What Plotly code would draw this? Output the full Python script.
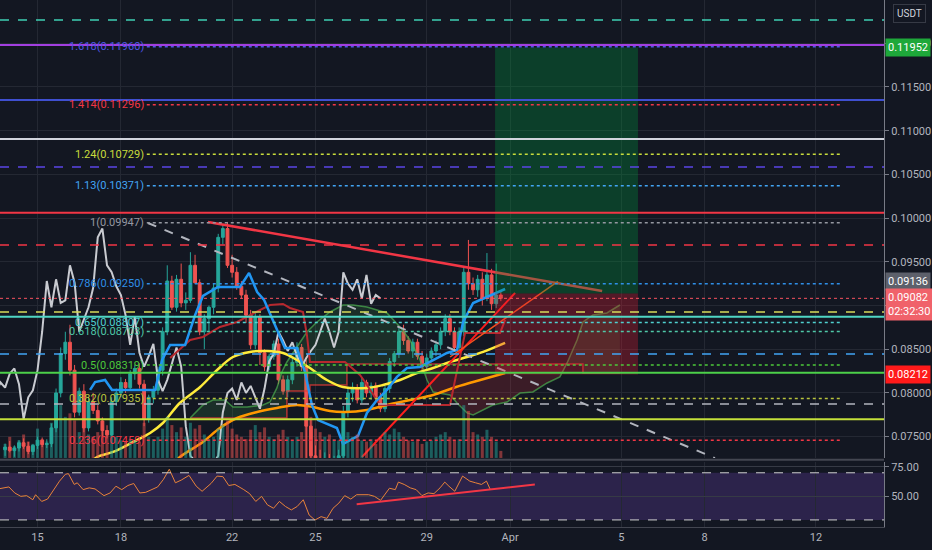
import numpy as np
import pandas as pd
import plotly.graph_objects as go

# ---- data (4h candles, prices in USDT) ----
candle_start = "2021-03-13 20:00"

candle_open = [
    .0735, .0738, .0734, .0737, .0743, .0739, .0733, .0740, .0746, .0741,
    .0742, .0760, .0800, .0845, .0858, .0826, .0778, .0802, .0760, .0790,
    .0780, .0768, .0757, .0752, .0790, .0800, .0812, .0806, .0822, .0828,
    .0810, .0770, .0795, .0803, .0826, .0870, .0928, .0898, .0930, .0903,
    .0906, .0946, .0926, .0870, .0885, .0898, .0920, .0978, .0988, .0946,
    .0938, .0922, .0912, .0889, .0855, .0887, .0846, .0830, .0842, .0856,
    .0815, .0802, .0815, .0835, .0852, .0830, .0762, .0728, .0722, .0716,
    .0724, .0714, .0720, .0728, .0778, .0800, .0805, .0792, .0812, .0800,
    .0808, .0795, .0782, .0805, .0836, .0845, .0870, .0860, .0848, .0858,
    .0842, .0830, .0840, .0848, .0855, .0870, .0885, .0870, .0852, .0870,
    .0938, .0925, .0918, .0930, .0908, .0935, .0902, .0912,
]
candle_high = [
    .0742, .0745, .0740, .0746, .0748, .0744, .0741, .0750, .0749, .0747,
    .0765, .0805, .0852, .0870, .0878, .0832, .0806, .0810, .0795, .0800,
    .0786, .0772, .0763, .0795, .0805, .0818, .0816, .0826, .0832, .0834,
    .0815, .0798, .0808, .0830, .0875, .0946, .0934, .0935, .0948, .0915,
    .0961, .0958, .0930, .0890, .0900, .0925, .0982, .0993, .09956, .0958,
    .0944, .0928, .0918, .0895, .0892, .0890, .0850, .0845, .0860, .0862,
    .0820, .0820, .0840, .0858, .0856, .0838, .0770, .0740, .0735, .0732,
    .0730, .0728, .0735, .0785, .0806, .0812, .0810, .0818, .0815, .0812,
    .0812, .0800, .0808, .0840, .0848, .0875, .0878, .0865, .0862, .0862,
    .0848, .0845, .0852, .0860, .0875, .0890, .0890, .0875, .0875, .0944,
    .0975, .0932, .0935, .0938, .0960, .0942, .0948, .0916,
]
candle_low = [
    .0728, .0732, .0727, .0733, .0736, .0730, .0729, .0736, .0738, .0737,
    .0738, .0755, .0795, .0838, .0820, .0772, .0774, .0755, .0756, .0776,
    .0764, .0750, .0748, .0750, .0785, .0795, .0800, .0803, .0815, .0805,
    .0762, .0766, .0788, .0798, .0820, .0866, .0895, .0893, .0898, .0895,
    .0903, .0925, .0866, .0850, .0870, .0890, .0915, .0970, .0943, .0932,
    .0918, .0908, .0880, .0850, .0850, .0832, .0825, .0826, .0838, .0810,
    .0798, .0795, .0810, .0830, .0825, .0690, .0712, .0710, .0705, .0708,
    .0706, .0708, .0712, .0722, .0772, .0790, .0788, .0788, .0795, .0792,
    .0790, .0778, .0778, .0800, .0830, .0840, .0855, .0845, .0840, .0838,
    .0825, .0825, .0835, .0842, .0850, .0865, .0866, .0848, .0848, .0865,
    .0918, .0912, .0910, .0900, .0905, .0895, .0897, .0905,
]
candle_close = [
    .0738, .0734, .0737, .0743, .0739, .0733, .0740, .0746, .0741, .0742,
    .0760, .0800, .0845, .0858, .0826, .0778, .0802, .0760, .0790, .0780,
    .0768, .0757, .0752, .0790, .0800, .0812, .0806, .0822, .0828, .0810,
    .0770, .0795, .0803, .0826, .0870, .0928, .0898, .0930, .0903, .0906,
    .0946, .0926, .0870, .0885, .0898, .0920, .0978, .0988, .0946, .0938,
    .0922, .0912, .0889, .0855, .0887, .0846, .0830, .0842, .0856, .0815,
    .0802, .0815, .0835, .0852, .0830, .0762, .0728, .0722, .0716, .0724,
    .0714, .0720, .0728, .0778, .0800, .0805, .0792, .0812, .0800, .0808,
    .0795, .0782, .0805, .0836, .0845, .0870, .0860, .0848, .0858, .0842,
    .0830, .0840, .0848, .0855, .0870, .0885, .0870, .0852, .0870, .0938,
    .0925, .0918, .0930, .0908, .0935, .0902, .0912, .09082,
]
volume = [
    12, 18, 10, 15, 20, 14, 12, 25, 16, 14,
    30, 40, 45, 35, 38, 32, 22, 30, 20, 18,
    22, 28, 20, 22, 18, 15, 14, 16, 15, 14,
    30, 18, 16, 18, 25, 35, 28, 22, 26, 18,
    30, 25, 28, 20, 16, 18, 25, 28, 32, 25,
    20, 18, 16, 24, 28, 22, 26, 18, 16, 20,
    24, 18, 15, 18, 22, 45, 35, 25, 22, 18,
    20, 16, 15, 30, 22, 18, 20, 15, 14, 16,
    12, 18, 22, 20, 25, 22, 18, 15, 14, 16,
    12, 14, 15, 18, 20, 22, 18, 15, 16, 45,
    40, 22, 20, 18, 24, 18, 14, 6,
]
chikou_shift = 26  # candles

# indicator lines: day of March (values > 31 run into April), price
tenkan_day = [16.89, 17.07, 17.43, 17.68, 19.23, 19.48, 19.77, 20.31, 20.67, 20.95,
              21.49, 22.28, 22.61, 22.90, 23.15, 23.61, 23.90, 24.33, 24.62, 24.87,
              25.09, 25.77, 25.99, 26.53, 26.85, 27.21, 27.57, 27.93, 28.29, 28.76,
              29.23, 29.73, 30.09, 30.31, 30.67, 31.17, 31.82]
tenkan = [.08034, .08125, .08148, .08034, .08034, .08377, .08549, .08549, .08892, .09109,
          .09212, .09212, .09372, .09155, .09063, .08720, .08514, .08514, .08240, .07862,
          .07690, .07599, .07416, .07508, .07771, .07919, .08034, .08183, .08285, .08297,
          .08377, .08457, .08491, .08812, .09029, .09098, .09189]

kijun_day = [19.77, 20.49, 20.95, 21.56, 22.18, 23.36, 23.83, 24.08, 24.55, 24.69,
             24.80, 26.06, 26.60, 26.78, 27.32, 29.84, 30.02, 30.38, 31.64, 31.82]
kijun = [.08400, .08606, .08640, .08755, .08812, .09006, .09018, .08972, .08926, .08663,
         .08354, .08354, .08205, .08125, .07862, .07862, .08148, .08686, .08686, .08835]

senkou_a_day = [20.49, 20.95, 21.31, 21.74, 22.03, 22.54, 23.11, 23.36, 23.61, 23.79,
                23.97, 24.33, 24.69, 25.05, 25.52, 25.99, 26.35, 26.85, 27.57, 28.04,
                28.40, 28.76, 29.01, 29.23, 29.84, 30.09, 30.45, 30.67, 31.03, 31.38,
                31.89, 32.36, 32.82, 33.33, 33.79, 34.05, 34.41, 34.62, 34.98, 35.48, 35.95]
senkou_a = [.07713, .07862, .07919, .07919, .07839, .07839, .07862, .07896, .08057, .08240,
            .08354, .08526, .08697, .08812, .08926, .09006, .09006, .08983, .08915, .08755,
            .08606, .08377, .08148, .08011, .07977, .07885, .07771, .07748, .07805, .07862,
            .07896, .07999, .08011, .08114, .08183, .08343, .08606, .08812, .08892, .08915, .09006]

senkou_b_day = [20.49, 23.97, 24.80, 26.13, 34.62, 35.95]
senkou_b = [.07713, .08022, .08091, .08331, .08228, .08228]

ma_yellow_day = [16.82, 17.14, 17.72, 18.44, 19.05, 19.51, 20.12, 20.85, 21.46, 22.03,
                 22.64, 23.25, 23.83, 24.33, 24.80, 25.41, 25.99, 26.85, 27.43, 28.04,
                 28.65, 29.23, 29.84, 30.45, 31.03, 31.82]
ma_yellow = [.07180, .07267, .07325, .07439, .07542, .07656, .07885, .08068, .08262, .08411,
             .08469, .08480, .08457, .08377, .08285, .08148, .08068, .08057, .08091, .08148,
             .08228, .08285, .08354, .08411, .08469, .08572]

ma_orange_day = [19.84, 20.12, 20.95, 21.56, 22.18, 22.90, 23.61, 24.33, 24.91, 25.52,
                 26.06, 26.85, 27.57, 28.40, 29.23, 29.95, 30.67, 31.82]
ma_orange = [.07180, .07267, .07439, .07599, .07713, .07782, .07828, .07862, .07839, .07793,
             .07782, .07805, .07862, .07919, .07977, .08057, .08125, .08228]

rsi_day = [13.65, 13.97, 14.18, 14.40, 14.61, 14.83, 14.93, 15.15, 15.36, 15.57,
           15.79, 16.00, 16.11, 16.32, 16.43, 16.64, 16.86, 17.07, 17.39, 17.61,
           17.82, 18.03, 18.25, 18.46, 18.68, 18.89, 19.10, 19.32, 19.53, 19.74,
           19.96, 20.17, 20.45, 20.71, 20.92, 21.24, 21.46, 21.67, 21.88, 22.10,
           22.42, 22.63, 22.85, 23.06, 23.27, 23.49, 23.70, 23.92, 24.13, 24.34,
           24.56, 24.77, 24.98, 25.20, 25.41, 25.63, 25.84, 26.05, 26.27, 26.48,
           26.91, 27.12, 27.34, 27.55, 27.66, 27.87, 27.98, 28.19, 28.41, 28.62,
           28.83, 29.05, 29.26, 29.48, 29.65, 29.80, 30.01, 30.29, 30.55, 30.76,
           30.97, 31.15, 31.29]
rsi = [56.6, 58.0, 52.9, 50.0, 50.6, 47.1, 51.4, 45.7, 47.7, 55.7,
       62.9, 68.7, 69.3, 60.1, 61.5, 55.7, 57.2, 56.3, 50.6, 52.9,
       58.6, 55.7, 59.2, 60.9, 52.9, 53.4, 55.7, 58.0, 64.4, 73.0,
       61.5, 63.8, 67.8, 58.6, 54.3, 60.9, 67.2, 66.7, 59.2, 60.1,
       55.7, 52.3, 45.7, 50.0, 42.8, 39.9, 45.7, 41.4, 38.5, 41.4,
       47.1, 34.2, 29.9, 32.8, 31.3, 39.9, 44.3, 50.6, 47.7, 51.4,
       51.4, 50.0, 46.6, 52.9, 56.9, 55.7, 62.1, 60.1, 57.2, 55.7,
       50.6, 52.9, 52.3, 57.2, 62.1, 58.6, 54.3, 67.2, 62.9, 61.5,
       60.1, 62.9, 55.7]

# fibonacci extension drawn from the 0.06691 low to the 0.09947 high
fib_level = ["1.618", "1.414", "1.24", "1.13", "1", "0.786", "0.65", "0.618", "0.5", "0.382", "0.236"]
fib_price = [0.11960, 0.11296, 0.10729, 0.10371, 0.09947, 0.09250, 0.08807, 0.08703, 0.08319, 0.07935, 0.07459]
fib_color = ["#4f56e8", "#f23645", "#c8dc3c", "#42a5f5", "#9598a1", "#2f8fe8",
             "#4fd0d0", "#4fc8a8", "#4cc93a", "#b9c43c", "#f23645"]
fib_span = [18.93, 43.94]

# horizontal levels drawn by the author
hline_price = [0.12267, 0.11980, 0.11350, 0.10905, 0.10585, 0.10062, 0.09693,
               0.08926, 0.08872, 0.08445, 0.08232, 0.07874, 0.07698]
hline_color = ["#3fcfb4", "#a23fe0", "#3f4fd0", "#d1d4dc", "#5b46e6", "#f23645", "#f23645",
               "#d8dc5a", "#4fd6c4", "#42a5f5", "#4cd04a", "#b2b5be", "#c5e03a"]
hline_dash = ["dash", "solid", "solid", "solid", "dash", "solid", "dash",
              "dash", "solid", "dash", "solid", "dash", "solid"]

# long position tool
pos_entry, pos_target, pos_stop = 0.09136, 0.11952, 0.08212
pos_span = [31.46, 36.60]
last_price = 0.09082

# trend lines (day, price)
tl_down_red = ([21.13, 35.31], [0.09956, 0.09166])
tl_up_red = ([26.67, 32.18], [0.07267, 0.09144])
tl_up_orange = ([29.84, 33.72], [0.08411, 0.09276])
tl_down_grey = ([18.97, 39.37], [0.09944, 0.07255])
tl_rsi = ([26.48, 32.89], [43.4, 60.1])

tick_day = [15, 18, 22, 25, 29, 32, 36, 39, 43]
tick_text = ["15", "18", "22", "25", "29", "Apr", "5", "8", "12"]
price_range = [0.07256, 0.12495]
day_range = [13.65, 45.45]

BASE = pd.Timestamp("2021-03-01")


def mday(d):
    """March day number (fractional) -> timestamp"""
    return BASE + pd.to_timedelta(np.asarray(d, dtype=float) - 1, unit="D")


UP, DOWN = "#26a69a", "#ef5350"
BG = "#131722"
GRID = "#242833"

t = pd.date_range(candle_start, periods=len(candle_close), freq="4h")
is_up = np.array(candle_close) >= np.array(candle_open)

fig = go.Figure()

# ichimoku cloud fill, split where the two spans cross
g = np.arange(senkou_a_day[0], senkou_a_day[-1], 0.01)
a = np.interp(g, senkou_a_day, senkou_a)
b = np.asarray(senkou_b)[np.clip(np.searchsorted(senkou_b_day, g, side="right") - 1, 0, None)]
above = a >= b
runs = np.split(np.arange(len(g)), np.where(np.diff(above.astype(int)) != 0)[0] + 1)
for r in runs:
    if len(r) < 2:
        continue
    xs = np.concatenate([g[r], g[r][::-1]])
    ys = np.concatenate([a[r], b[r][::-1]])
    fig.add_trace(go.Scatter(
        x=mday(xs), y=ys, fill="toself", mode="none",
        fillcolor="rgba(76,175,80,0.16)" if above[r[0]] else "rgba(242,54,69,0.18)",
        hoverinfo="skip"))

# volume
fig.add_trace(go.Bar(
    x=t, y=volume, yaxis="y2",
    marker_color=np.where(is_up, "rgba(38,166,154,0.5)", "rgba(239,83,80,0.5)"),
    marker_line_width=0, hoverinfo="skip"))

# candles
fig.add_trace(go.Candlestick(
    x=t, open=candle_open, high=candle_high, low=candle_low, close=candle_close,
    increasing=dict(line=dict(color=UP, width=1), fillcolor=UP),
    decreasing=dict(line=dict(color=DOWN, width=1), fillcolor=DOWN),
    whiskerwidth=0, hoverinfo="skip"))

# indicator lines
fig.add_trace(go.Scatter(x=mday(senkou_b_day), y=senkou_b, line_shape="hv",
                         mode="lines", line=dict(color="rgba(229,57,53,0.75)", width=1.5)))
fig.add_trace(go.Scatter(x=mday(senkou_a_day), y=senkou_a, mode="lines",
                         line=dict(color="rgba(76,175,80,0.7)", width=1.5)))
fig.add_trace(go.Scatter(x=t - pd.Timedelta(hours=4 * chikou_shift), y=candle_close, mode="lines",
                         line=dict(color="#c9cbd1", width=2)))
fig.add_trace(go.Scatter(x=mday(ma_orange_day), y=ma_orange, mode="lines", line_shape="spline",
                         line=dict(color="#ff9800", width=2.5)))
fig.add_trace(go.Scatter(x=mday(ma_yellow_day), y=ma_yellow, mode="lines", line_shape="spline",
                         line=dict(color="#ffeb3b", width=2.5)))
fig.add_trace(go.Scatter(x=mday(kijun_day), y=kijun, mode="lines",
                         line=dict(color="#b7282e", width=2)))
fig.add_trace(go.Scatter(x=mday(tenkan_day), y=tenkan, mode="lines",
                         line=dict(color="#2196f3", width=2.5)))

# trend lines
for (dx, py), col, w, dash in [(tl_down_grey, "#b2b5be", 2, "dash"),
                               (tl_down_red, "#f23645", 2.5, "solid"),
                               (tl_up_red, "#ff1e1e", 2, "solid"),
                               (tl_up_orange, "#f4511e", 1.5, "solid")]:
    fig.add_trace(go.Scatter(x=mday(dx), y=py, mode="lines",
                             line=dict(color=col, width=w, dash=dash)))

# RSI pane
fig.add_trace(go.Scatter(x=mday(rsi_day), y=rsi, xaxis="x2", yaxis="y3", mode="lines",
                         line=dict(color="#e8833a", width=1)))
fig.add_trace(go.Scatter(x=mday(tl_rsi[0]), y=tl_rsi[1], xaxis="x2", yaxis="y3", mode="lines",
                         line=dict(color="#f23645", width=2)))

shapes = []
# RSI band
shapes.append(dict(type="rect", xref="x2 domain", yref="y3", x0=0, x1=1, y0=30, y1=70,
                   fillcolor="rgba(120,70,200,0.25)", line_width=0, layer="below"))
for lvl in (30, 70):
    shapes.append(dict(type="line", xref="x2 domain", yref="y3", x0=0, x1=1, y0=lvl, y1=lvl,
                       line=dict(color="#d0d0d0", width=1, dash="dash")))

# long position boxes
shapes.append(dict(type="rect", xref="x", yref="y", x0=mday(pos_span[0]), x1=mday(pos_span[1]),
                   y0=pos_entry, y1=pos_target, fillcolor="rgba(0,150,60,0.32)", line_width=0))
shapes.append(dict(type="rect", xref="x", yref="y", x0=mday(pos_span[0]), x1=mday(pos_span[1]),
                   y0=pos_stop, y1=pos_entry, fillcolor="rgba(220,30,50,0.32)", line_width=0))

# fib levels
annotations = []
for lvl, p, c in zip(fib_level, fib_price, fib_color):
    shapes.append(dict(type="line", xref="x", yref="y", x0=mday(fib_span[0]), x1=mday(fib_span[1]),
                       y0=p, y1=p, line=dict(color=c, width=1.5, dash="dot")))
    annotations.append(dict(x=mday(fib_span[0]), y=p, xref="x", yref="y", xanchor="right",
                            yanchor="middle", xshift=-1, showarrow=False,
                            text=f"{lvl}({p:.5f})", font=dict(color=c, size=11)))

# author levels
for p, c, d in zip(hline_price, hline_color, hline_dash):
    shapes.append(dict(type="line", xref="x domain", yref="y", x0=0, x1=1, y0=p, y1=p,
                       line=dict(color=c, width=2 if d == "solid" else 1.5, dash=d)))

# last price line
shapes.append(dict(type="line", xref="x domain", yref="y", x0=0, x1=1, y0=last_price, y1=last_price,
                   line=dict(color="#f7525f", width=1, dash="dot")))
# pane separator
shapes.append(dict(type="line", xref="paper", yref="paper", x0=0, x1=1, y0=0.1275, y1=0.1275,
                   line=dict(color="#434651", width=2)))


# price scale badges
def badge(text, y, bg, yshift=0, yref="y"):
    annotations.append(dict(x=1, y=y, xref="paper", yref=yref, xanchor="left", yanchor="middle",
                            xshift=1, yshift=yshift, showarrow=False, text=text, align="left",
                            bgcolor=bg, borderpad=2, font=dict(color="#ffffff", size=11)))


badge(f"{pos_target:.5f}", pos_target, "#1ea83a")
badge(f"{pos_entry:.5f}", pos_entry, "#5d606b", yshift=12)
badge(f"{last_price:.5f}<br>02:32:30", last_price, "#f0626a", yshift=-6)
badge(f"{pos_stop:.5f}", pos_stop, "#ff1a1a")
annotations.append(dict(x=1, y=1, xref="paper", yref="paper", xanchor="left", yanchor="top",
                        xshift=9, yshift=-4, showarrow=False, text="USDT",
                        bgcolor=BG, bordercolor="#363a45", borderwidth=1, borderpad=3,
                        font=dict(color="#d1d4dc", size=10)))

tickvals = mday(tick_day)
fig.update_layout(
    width=932, height=550,
    paper_bgcolor=BG, plot_bgcolor=BG,
    margin=dict(l=0, r=48, t=0, b=23),
    showlegend=False, hovermode=False,
    font=dict(family="Roboto", color="#b2b5be", size=11),
    bargap=0.35, boxgap=0.12,
    xaxis=dict(domain=[0, 1], anchor="y", range=[mday(day_range[0]), mday(day_range[1])],
               tickvals=tickvals, showticklabels=False, gridcolor=GRID, zeroline=False,
               rangeslider=dict(visible=False), showline=False),
    xaxis2=dict(domain=[0, 1], anchor="y3", matches="x", tickvals=tickvals, ticktext=tick_text,
                gridcolor=GRID, zeroline=False, showline=True, linecolor="#434651", linewidth=1,
                tickfont=dict(size=11, color="#b2b5be")),
    yaxis=dict(domain=[0.131, 1], anchor="x", side="right", range=price_range,
               tick0=0.075, dtick=0.005, tickformat=".5f", gridcolor=GRID, zeroline=False,
               showline=True, linecolor="#787b86", ticks="outside", ticklen=4, tickcolor="#787b86"),
    yaxis2=dict(overlaying="y", anchor="x", range=[0, 390], visible=False),
    yaxis3=dict(domain=[0, 0.123], anchor="x2", side="right", range=[24, 79],
                tickvals=[50, 75], ticktext=["50.00", "75.00"], gridcolor="#363a45", zeroline=False,
                showline=True, linecolor="#787b86", ticks="outside", ticklen=4, tickcolor="#787b86"),
    shapes=shapes,
    annotations=annotations,
)

# page body has a default margin; drop it so the 932x550 figure fills the window
fig.write_html("out.html", config={"displayModeBar": False},
               post_script="document.body.style.margin='0';")
